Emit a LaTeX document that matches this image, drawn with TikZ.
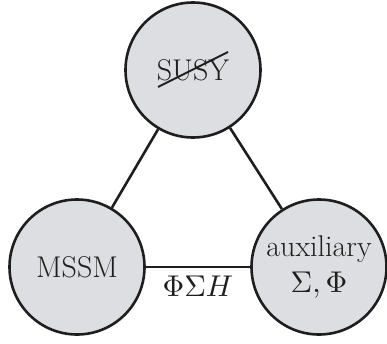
\documentclass[tikz,border=0pt]{standalone}
\DeclareFontFamily{OT1}{cmr}{\hyphenchar\font45 }
\DeclareFontShape{OT1}{cmr}{m}{n}{<->cmr10}{}
\DeclareFontFamily{OML}{cmm}{\skewchar\font127 }
\DeclareFontShape{OML}{cmm}{m}{it}{<->cmmi10}{}
\DeclareFontFamily{OMS}{cmsy}{\skewchar\font48 }
\DeclareFontShape{OMS}{cmsy}{m}{n}{<->cmsy10}{}
\begin{document}
\definecolor{nodefill}{RGB}{221,222,225}
\definecolor{ink}{RGB}{30,30,30}
\begin{tikzpicture}[x=1pt,y=-1pt,
  blob/.style={circle,draw=ink,line width=2.6pt,fill=nodefill,minimum size=135pt,inner sep=0pt,
    font=\fontsize{30}{36}\selectfont,align=center,text=ink},
  link/.style={draw=ink,line width=2.6pt},
  elabel/.style={font=\fontsize{30}{36}\selectfont,text=ink}]
\useasboundingbox (0,0) rectangle (387,343);
\node[blob] (susy) at (193,70) {SUSY};
\node[blob] (mssm) at (77,267) {MSSM};
\node[blob] (aux) at (319,267) {auxiliary\\$\Sigma,\Phi$};
\draw[link] (susy) -- (mssm);
\draw[link] (susy) -- (aux);
\draw[link] (mssm) -- node[elabel,below=4pt] (lab) {$\Phi\Sigma H$} (aux);
\draw[draw=ink,line width=2pt] ([shift={(-35,17)}]susy.center) -- ([shift={(35,-18)}]susy.center);
\end{tikzpicture}
\end{document}
